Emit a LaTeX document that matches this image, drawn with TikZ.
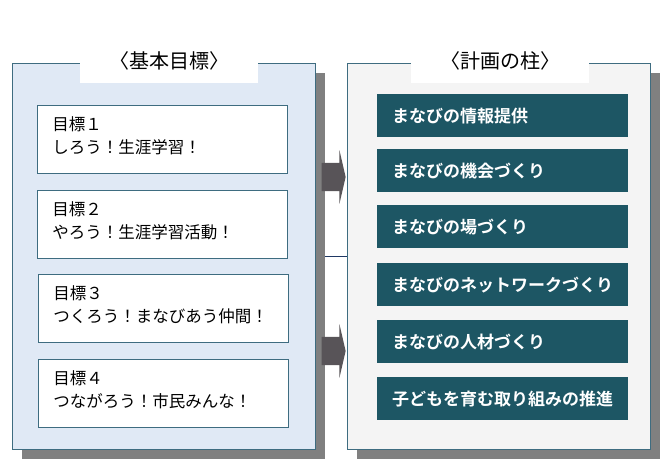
\documentclass[tikz,border=0pt]{standalone}
\usepackage{fontspec}
\setmainfont{Noto Sans CJK JP}[BoldFont={Noto Sans CJK JP Bold}]
\usepackage{tikz}
\usetikzlibrary{positioning,shadows,shapes.arrows,backgrounds}
\definecolor{goalblue}{RGB}{224,233,245}
\definecolor{pillgray}{RGB}{244,244,244}
\definecolor{frameD}{RGB}{62,108,128}
\definecolor{pillteal}{RGB}{29,86,100}
\definecolor{shadegray}{RGB}{128,128,128}
\definecolor{arrgray}{RGB}{88,84,88}
\definecolor{linknavy}{RGB}{31,56,100}
\tikzset{
  panel/.style={draw=frameD,line width=0.8pt,anchor=north west,inner sep=0pt,
                minimum width=303,minimum height=386,
                drop shadow={shadow xshift=10pt,shadow yshift=-10pt,fill=shadegray,opacity=1}},
  gap/.style={fill=white,anchor=north,inner sep=0pt,minimum width=178,minimum height=26},
  ttl/.style={font=\fontsize{20}{24}\selectfont,inner sep=0pt},
  goal/.style={draw=frameD,fill=white,line width=0.7pt,anchor=north west,align=left,
               text width=220,inner xsep=15,inner ysep=0pt,minimum width=250,minimum height=68,
               text depth=32pt,font=\fontsize{16.5}{23}\selectfont},
  pill/.style={fill=pillteal,anchor=north west,align=left,text=white,
               text width=221,inner xsep=15,inner ysep=0pt,minimum width=251,minimum height=43,
               font=\fontsize{17}{20}\selectfont\bfseries},
  blockarr/.style={single arrow,fill=arrgray,inner sep=0pt,minimum height=24,
                   text height=14pt,text depth=14pt,
                   single arrow head extend=12.5pt,single arrow tip angle=154},
  link/.style={draw=linknavy,line width=1.6pt},
}

\begin{document}
\begin{tikzpicture}[x=1pt,y=-1pt]
\useasboundingbox (0,0) rectangle (670,470);
\node[panel,fill=goalblue] (goals) at (12,63) {};
\node[panel,fill=pillgray] (pillars) at (347,63) {};
\begin{scope}[on background layer]
\draw[link] (goals.east) -- (pillars.west);
\end{scope}
\node[gap] (gapG) at (169,57) {};
\node[gap] (gapP) at (500,57) {};
\node[ttl] (ttlG) at (169,61) {〈基本目標〉};
\node[ttl] (ttlP) at (500,61) {〈計画の柱〉};
\node[goal] (goal1) at (37,105) {目標１\\しろう！生涯学習！};
\node[goal] (goal2) at (37,190) {目標２\\やろう！生涯学習活動！};
\node[goal] (goal3) at (38,274) {目標３\\つくろう！まなびあう仲間！};
\node[goal] (goal4) at (38,359) {目標４\\つながろう！市民みんな！};
\node[pill] (pill1) at (377,94) {まなびの情報提供};
\node[pill] (pill2) at (377,149) {まなびの機会づくり};
\node[pill] (pill3) at (377,205) {まなびの場づくり};
\node[pill] (pill4) at (377,263) {まなびのネットワークづくり};
\node[pill] (pill5) at (377,320) {まなびの人材づくり};
\node[pill] (pill6) at (377,377) {子どもを育む取り組みの推進};
\node[blockarr] (arrA) at (332,177) {};
\node[blockarr] (arrB) at (332,351) {};
\end{tikzpicture}
\end{document}
